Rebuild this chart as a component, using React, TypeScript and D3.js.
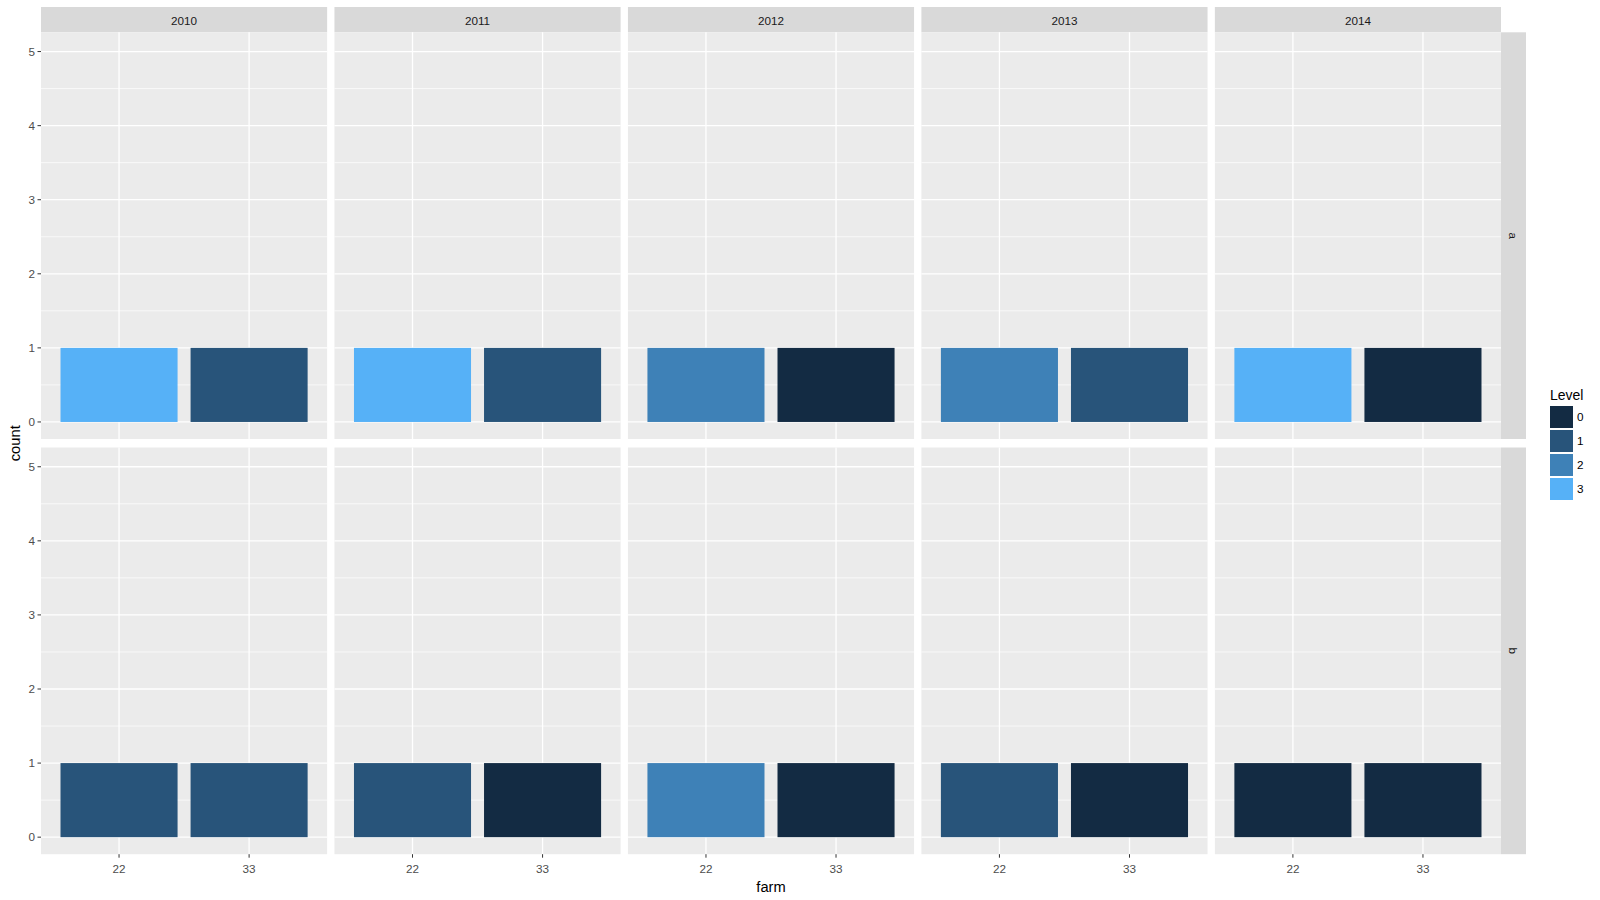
import React from "react";
import * as d3 from "d3";

const years = ["2010", "2011", "2012", "2013", "2014"];
const rowsFacet = ["a", "b"];
const farms = ["22", "33"];
const levels = [0, 1, 2, 3];
// level for each bar: [row][year] -> [farm 22, farm 33]
const levelsA = [[3, 1], [3, 1], [2, 0], [2, 1], [3, 0]];
const levelsB = [[1, 1], [1, 0], [2, 0], [1, 0], [0, 0]];
const counts = 1;
const yTicks = [0, 1, 2, 3, 4, 5];
const yMinor = [0.5, 1.5, 2.5, 3.5, 4.5];

const W = 1600, H = 900;
const panelLeft = 41, panelRight = 1501;
const gap = 7.33;
const rowGap = 8.5;
const stripTop = 7, stripH = 25.3;
const panelH = 406.7;
const rightStripW = 25;

export default function App() {
  const pw = (panelRight - panelLeft - gap * (years.length - 1)) / years.length;
  const colorScale = (l: number) => d3.interpolateLab("#132B43", "#56B1F7")(l / 3);
  const y = d3.scaleLinear().domain([-0.23, 5.26]).range([panelH, 0]);
  const unit = pw / 2.2;
  const cx = (f: string) => (farms.indexOf(f) + 1 - 0.4) * unit;
  const barW = 0.9 * unit;
  const panelTops = [stripTop + stripH, stripTop + stripH + panelH + rowGap];
  const data = [levelsA, levelsB];
  const font = "Liberation Sans, Arial, sans-serif";

  return (
    <svg width={W} height={H} style={{ position: "absolute", left: 0, top: 0, background: "#fff" }} fontFamily={font}>
      <rect x={0} y={0} width={W} height={H} fill="#fff" />
      {years.map((yr, i) => {
        const px = panelLeft + i * (pw + gap);
        return (
          <g key={yr}>
            <rect x={px} y={stripTop} width={pw} height={stripH} fill="#D9D9D9" />
            <text x={px + pw / 2} y={stripTop + stripH / 2 + 1} dy="0.35em" textAnchor="middle" fontSize={11.7} fill="#1A1A1A">{yr}</text>
            {rowsFacet.map((r, ri) => {
              const py = panelTops[ri];
              return (
                <g key={r} transform={`translate(${px},${py})`}>
                  <rect x={0} y={0} width={pw} height={panelH} fill="#EBEBEB" />
                  {yMinor.map(v => (
                    <line key={"m" + v} x1={0} x2={pw} y1={y(v)} y2={y(v)} stroke="#fff" strokeWidth={0.7} />
                  ))}
                  {yTicks.map(v => (
                    <line key={"M" + v} x1={0} x2={pw} y1={y(v)} y2={y(v)} stroke="#fff" strokeWidth={1.3} />
                  ))}
                  {farms.map(f => (
                    <line key={"v" + f} x1={cx(f)} x2={cx(f)} y1={0} y2={panelH} stroke="#fff" strokeWidth={1.3} />
                  ))}
                  {farms.map((f, fi) => (
                    <rect key={"b" + f} x={cx(f) - barW / 2} y={y(counts)} width={barW} height={y(0) - y(counts)} fill={colorScale(data[ri][i][fi])} />
                  ))}
                </g>
              );
            })}
          </g>
        );
      })}
      {rowsFacet.map((r, ri) => (
        <g key={"rs" + r}>
          <rect x={panelRight} y={panelTops[ri]} width={rightStripW} height={panelH} fill="#D9D9D9" />
          <text transform={`translate(${panelRight + rightStripW / 2},${panelTops[ri] + panelH / 2}) rotate(90)`} textAnchor="middle" dy="0.35em" fontSize={11.7} fill="#1A1A1A">{r}</text>
        </g>
      ))}
      {rowsFacet.map((r, ri) => (
        <g key={"ya" + r} transform={`translate(${panelLeft},${panelTops[ri]})`}>
          {yTicks.map(v => (
            <g key={v}>
              <line x1={-3.5} x2={0} y1={y(v)} y2={y(v)} stroke="#333" strokeWidth={1} />
              <text x={-6} y={y(v)} dy="0.35em" textAnchor="end" fontSize={11.7} fill="#4D4D4D">{v}</text>
            </g>
          ))}
        </g>
      ))}
      {years.map((yr, i) => {
        const px = panelLeft + i * (pw + gap);
        const by = panelTops[1] + panelH;
        return (
          <g key={"xa" + yr} transform={`translate(${px},${by})`}>
            {farms.map(f => (
              <g key={f}>
                <line x1={cx(f)} x2={cx(f)} y1={0} y2={3.5} stroke="#333" strokeWidth={1} />
                <text x={cx(f)} y={18.5} textAnchor="middle" fontSize={11.7} fill="#4D4D4D">{f}</text>
              </g>
            ))}
          </g>
        );
      })}
      <text x={(panelLeft + panelRight) / 2} y={892} textAnchor="middle" fontSize={14.7} fill="#000">farm</text>
      <text transform={`translate(20,${(panelTops[0] + panelTops[1] + panelH) / 2}) rotate(-90)`} textAnchor="middle" fontSize={14.7} fill="#000">count</text>
      <text x={1550} y={400} fontSize={14} fill="#000">Level</text>
      {levels.map((l, li) => (
        <g key={"lg" + l} transform={`translate(1550,${406 + li * 24})`}>
          <rect x={0} y={0} width={23} height={22} fill={colorScale(l)} />
          <text x={27} y={11} dy="0.35em" fontSize={11.7} fill="#000">{l}</text>
        </g>
      ))}
    </svg>
  );
}
